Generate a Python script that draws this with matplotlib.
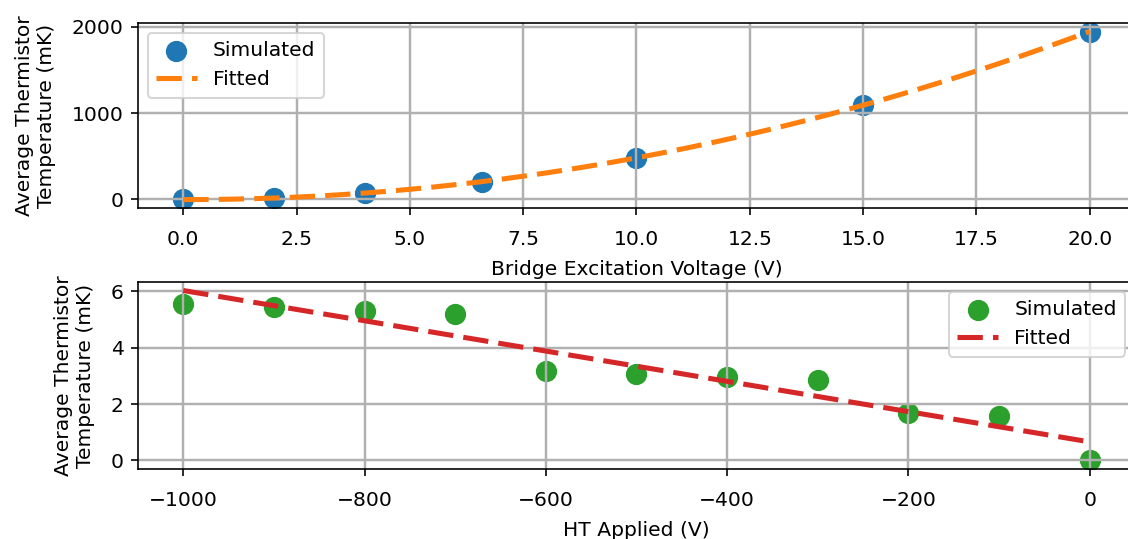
import numpy as np
import matplotlib
matplotlib.use('Agg')
import matplotlib.pyplot as plt

# bridge excitation sweep
bridge_v = [0.0, 2.0, 4.0, 6.6, 10.0, 15.0, 20.0]
bridge_t = [0.0, 15.0, 70.0, 200.0, 482.0, 1097.0, 1942.0]   # mK

# high-tension sweep
ht_v = [-1000, -900, -800, -700, -600, -500, -400, -300, -200, -100, 0]
ht_t = [5.56, 5.44, 5.30, 5.18, 3.19, 3.05, 2.97, 2.85, 1.67, 1.57, 0.0]  # mK

YLABEL = 'Average Thermistor\nTemperature (mK)'
DPI = 146
FIT_STYLE = dict(ls=(0, (5, 2)), lw=2.5)

fig = plt.figure(figsize=(1128 / DPI, 539 / DPI), dpi=DPI)
ax1 = fig.add_axes([0.1223, 0.6141, 0.8839, 0.3432])
ax2 = fig.add_axes([0.1223, 0.1299, 0.8839, 0.3469])

# quadratic fit of the heating vs excitation voltage
p1 = np.polyfit(bridge_v, bridge_t, 2)
v_fit = np.linspace(min(bridge_v), max(bridge_v), 200)
ax1.scatter(bridge_v, bridge_t, s=90, color='C0', label='Simulated')
ax1.plot(v_fit, np.polyval(p1, v_fit), color='C1', label='Fitted', **FIT_STYLE)
ax1.set_xlim(-1, 21)
ax1.set_xticks(np.arange(0, 20.1, 2.5))
ax1.set_yticks([0, 1000, 2000])
ax1.set_xlabel('Bridge Excitation Voltage (V)', labelpad=5.5)
ax1.set_ylabel(YLABEL, labelpad=8)
ax1.grid(True, lw=1.2)
ax1.legend(loc='upper left')

# linear fit of the heating vs applied HT
p2 = np.polyfit(ht_v, ht_t, 1)
h_fit = np.linspace(min(ht_v), max(ht_v), 200)
ax2.scatter(ht_v, ht_t, s=90, color='C2', label='Simulated')
ax2.plot(h_fit, np.polyval(p2, h_fit), color='C3', label='Fitted', **FIT_STYLE)
ax2.set_xlim(-1050, 50)
ax2.set_xticks([-1000, -800, -600, -400, -200, 0])
ax2.set_yticks([0, 2, 4, 6])
ax2.set_xlabel('HT Applied (V)', labelpad=5.5)
ax2.set_ylabel(YLABEL, labelpad=8)
ax2.grid(True, lw=1.2)
ax2.legend(loc='upper right')

for ax in (ax1, ax2):
    ax.tick_params(axis='x', pad=7.5)

fig.savefig('out.png', dpi=DPI)
